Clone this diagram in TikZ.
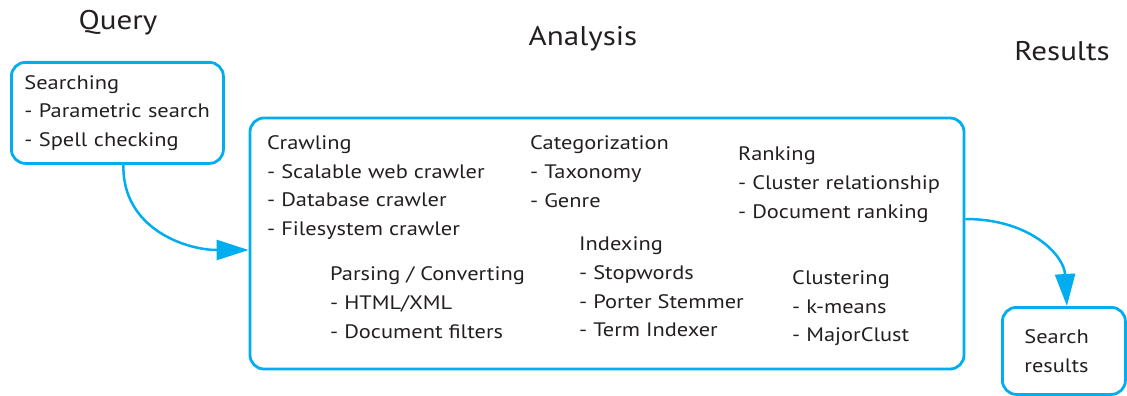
\documentclass[tikz,border=0pt]{standalone}
\usepackage{fontspec}
\setmainfont{PT Sans}[FakeStretch=1.15]
\usetikzlibrary{arrows.meta}
\definecolor{cy}{HTML}{00AEEF}
\definecolor{ink}{HTML}{231F20}
\begin{document}
\begin{tikzpicture}[x=1pt,y=-1pt,
  box/.style={draw=cy,line width=2.8pt,rounded corners=14pt},
  body/.style={font=\fontsize{19.5}{28.7}\selectfont,text=ink,align=left,inner sep=0pt},
  title/.style={font=\fontsize{27}{32}\selectfont,text=ink,inner sep=0pt,anchor=base},
  flow/.style={draw=cy,line width=2.5pt,-{Triangle[length=32pt,width=20pt]}}]
\useasboundingbox (0,0) rectangle (1127,396);
% titles
\node[title] (tq) at (118,30) {Query};
\node[title] (ta) at (583,46) {Analysis};
\node[title] (tr) at (1062,61) {Results};
% boxes
\node[box,body,text width=186pt,inner xsep=13pt,minimum height=101pt,anchor=north west] (query) at (10,61)
  {Searching\\- Parametric search\\- Spell checking};
\node[box,minimum width=714pt,minimum height=251pt,inner sep=0pt] (analysis) at (607,243.5) {};
\node[box,body,text width=79pt,inner xsep=22pt,minimum height=87pt,anchor=north west] (results) at (1001,306)
  {Search\\results};
% analysis contents
\node[body,anchor=base west] (crawl) at (267,235.5) {Crawling\\- Scalable web crawler\\- Database crawler\\- Filesystem crawler};
\node[body,anchor=base west] (parse) at (330,338) {Parsing / Converting\\- HTML/XML\\- Document filters};
\node[body,anchor=base west] (cat) at (530,207.3) {Categorization\\- Taxonomy\\- Genre};
\node[body,anchor=base west] (rank) at (738,218.3) {Ranking\\- Cluster relationship\\- Document ranking};
\node[body,anchor=base west] (index) at (579,336.7) {Indexing\\- Stopwords\\- Porter Stemmer\\- Term Indexer};
\node[body,anchor=base west] (clust) at (792,341.7) {Clustering\\- k-means\\- MajorClust};
% connectors
\draw[flow] ([xshift=6pt]query.south) .. controls (122,228) and (185,250) .. ([yshift=-6.5pt]analysis.west);
\draw[flow] ([yshift=24.5pt]analysis.east) .. controls (1030,219) and (1064,255) .. ([xshift=3pt]results.north);
\end{tikzpicture}
\end{document}
